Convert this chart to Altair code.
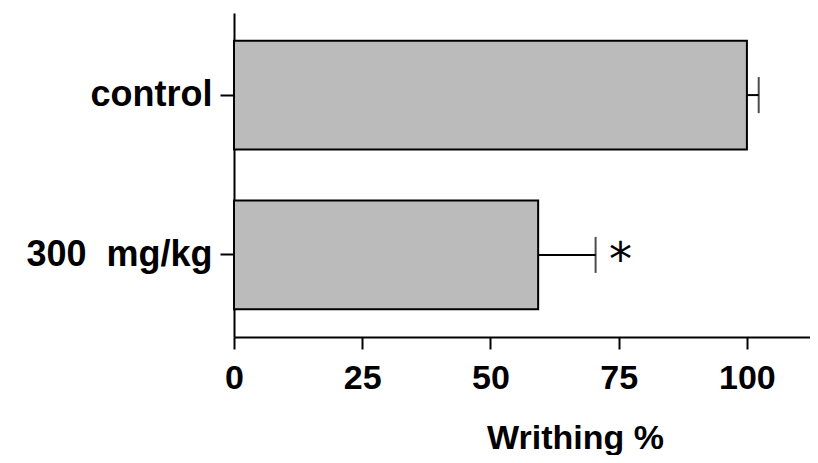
import altair as alt
import pandas as pd

groups = ["control", "300\u00a0 mg/kg"]
means = [100.0, 59.3]
errors = [2.3, 11.2]
sig = ["", "*"]
x_ticks = [0, 25, 50, 75, 100]

df = pd.DataFrame({"group": groups, "mean": means, "err": errors, "sig": sig})
df["upper"] = df["mean"] + df["err"]

FONT = "Liberation Sans"
W, H = 576, 324

xscale = alt.Scale(domain=[0, 112.3], nice=False, zero=True)
yscale = alt.Scale(domain=groups, paddingInner=0.319, paddingOuter=0.173)

x_axis = alt.Axis(
    values=x_ticks, title="Writhing %", grid=False,
    labelFont=FONT, labelFontSize=34, labelFontWeight="bold", labelColor="black",
    labelBaseline="alphabetic", labelPadding=39, labelFlush=False,
    tickSize=12, tickWidth=2, tickColor="black",
    domainWidth=2, domainColor="black",
    titleFont=FONT, titleFontSize=34, titleFontWeight="bold", titleColor="black",
    titleX=341, titleY=111, titleAlign="center", titleBaseline="alphabetic",
)
y_axis = alt.Axis(
    title=None, grid=False,
    labelFont=FONT, labelFontSize=36, labelFontWeight="bold", labelColor="black",
    labelPadding=8, labelLimit=500,
    tickSize=14, tickWidth=2, tickColor="black",
    domainWidth=2, domainColor="black",
)

base = alt.Chart(df)
Y = alt.Y("group:N", scale=yscale, sort=groups, axis=y_axis)

bars = base.mark_bar(fill="#bbbbbb", stroke="black", strokeWidth=2).encode(
    x=alt.X("mean:Q", scale=xscale, axis=x_axis), y=Y
)
whisk = base.mark_rule(color="black", strokeWidth=2).encode(
    x="mean:Q", x2="upper:Q", y=Y
)
caps = base.mark_tick(color="black", thickness=2, size=36).encode(
    x="upper:Q", y=Y
)
star = base.mark_text(
    font="DejaVu Sans", fontSize=46, color="black", baseline="middle",
    align="center", dx=25, dy=6
).encode(x="upper:Q", y=Y, text="sig:N")

chart = alt.layer(bars, whisk, caps, star).properties(
    width=W, height=H,
    autosize=alt.AutoSizeParams(type="none"),
    padding={"left": 226, "top": 5, "right": 0, "bottom": 118},
).configure_view(strokeWidth=0)

chart.save("out.html", embed_options={"renderer": "svg", "actions": False})
